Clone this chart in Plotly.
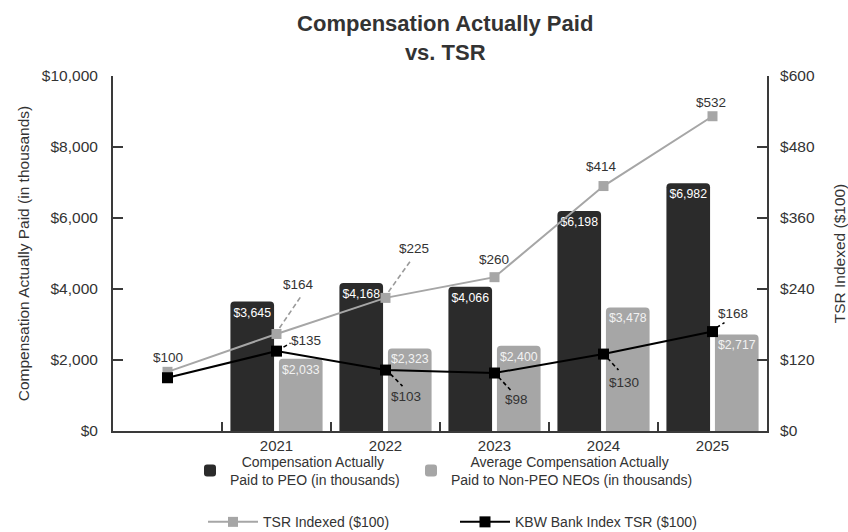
import plotly.graph_objects as go

# ---------------- data ----------------
periods = ["2020", "2021", "2022", "2023", "2024", "2025"]
tick_labels = ["", "2021", "2022", "2023", "2024", "2025"]
bar_periods = ["2021", "2022", "2023", "2024", "2025"]
peo_cap = [3645, 4168, 4066, 6198, 6982]
neo_cap = [2033, 2323, 2400, 3478, 2717]
tsr_indexed = [100, 164, 225, 260, 414, 532]
kbw_tsr = [90, 135, 103, 98, 130, 168]
kbw_labelled = [False, True, True, True, True, True]
left_ticks = [0, 2000, 4000, 6000, 8000, 10000]
right_ticks = [0, 120, 240, 360, 480, 600]

# ---------------- styling (label offsets in pixels) ----------------
FONT = "Liberation Sans, Arial, Helvetica, sans-serif"
TXT = "#333333"
DARK = "#2b2b2b"
GRAY = "#a6a6a6"
AX = "#3a3a3a"
NB = "\u00a0"

tsr_label_off = [(0, 14), (22, 49), (28, 49), (-1, 18), (-2, 20), (-2, 14)]
tsr_leader = [None, (3, 6, 24, 37), (3, 6, 25, 37), None, None, None]
kbw_label_off = [None, (29, 11), (20, -26), (22, -26), (20, -28), (20, 18)]
kbw_leader = [None, (7, 4, 14, 8), (5, -4, 17, -16), (4, -4, 16, -17), (4, -4, 15, -16), (4, 4, 12, 9)]

xpos = list(range(len(periods)))
bar_x = [periods.index(p) for p in bar_periods]

fig = go.Figure()

fig.add_trace(go.Bar(
    x=bar_x, y=peo_cap, name=NB * 3 + "Compensation Actually<br>Paid to PEO (in thousands)",
    marker=dict(color=DARK, cornerradius=4, line=dict(width=0)),
    texttemplate="$%{y:,.0f}", textposition="inside", insidetextanchor="end",
    constraintext="none", textangle=0,
    insidetextfont=dict(family=FONT, size=13.5, color="#ffffff"),
    legend="legend", yaxis="y",
))
fig.add_trace(go.Bar(
    x=bar_x, y=neo_cap, name=NB * 5 + "Average Compensation Actually<br>Paid to Non-PEO NEOs (in thousands)",
    marker=dict(color=GRAY, cornerradius=4, line=dict(width=0)),
    texttemplate="$%{y:,.0f}", textposition="inside", insidetextanchor="end",
    constraintext="none", textangle=0,
    insidetextfont=dict(family=FONT, size=13.5, color="#f2f2f2"),
    legend="legend3", yaxis="y",
))
fig.add_trace(go.Scatter(
    x=xpos, y=tsr_indexed, name="TSR Indexed ($100)", mode="lines+markers",
    line=dict(color=GRAY, width=2), marker=dict(symbol="square", size=10, color=GRAY),
    yaxis="y2", legend="legend2",
))
fig.add_trace(go.Scatter(
    x=xpos, y=kbw_tsr, name="KBW Bank Index TSR ($100)", mode="lines+markers",
    line=dict(color="#000000", width=2), marker=dict(symbol="square", size=11, color="#000000"),
    yaxis="y2", legend="legend4",
))

annotations = []
shapes = []
for i, v in enumerate(tsr_indexed):
    dx, dy = tsr_label_off[i]
    annotations.append(dict(x=xpos[i], y=v, xref="x", yref="y2", text=f"${v:,}",
                            showarrow=False, xshift=dx, yshift=dy,
                            font=dict(family=FONT, size=13.5, color=TXT)))
    if tsr_leader[i]:
        x0, y0, x1, y1 = tsr_leader[i]
        shapes.append(dict(type="line", xref="x", yref="y2", xsizemode="pixel", ysizemode="pixel",
                           xanchor=xpos[i], yanchor=v, x0=x0, y0=y0, x1=x1, y1=y1,
                           line=dict(color="#9a9a9a", width=1.6, dash="5px,3px")))
for i, v in enumerate(kbw_tsr):
    if not kbw_labelled[i]:
        continue
    dx, dy = kbw_label_off[i]
    annotations.append(dict(x=xpos[i], y=v, xref="x", yref="y2", text=f"${v:,}",
                            showarrow=False, xshift=dx, yshift=dy,
                            font=dict(family=FONT, size=13.5, color=TXT)))
    if kbw_leader[i]:
        x0, y0, x1, y1 = kbw_leader[i]
        shapes.append(dict(type="line", xref="x", yref="y2", xsizemode="pixel", ysizemode="pixel",
                           xanchor=xpos[i], yanchor=v, x0=x0, y0=y0, x1=x1, y1=y1,
                           line=dict(color="#000000", width=1.6, dash="4px,3px")))

leg_common = dict(orientation="h", xanchor="left", yanchor="top",
                  font=dict(size=14, color=TXT), bgcolor="rgba(0,0,0,0)", valign="middle")

fig.update_layout(
    width=848, height=532,
    margin=dict(l=113, r=81, t=76, b=101, autoexpand=False),
    paper_bgcolor="white", plot_bgcolor="white",
    font=dict(family=FONT, size=15, color=TXT),
    title=dict(text="<b>Compensation Actually Paid<br>vs. TSR</b>",
               x=0.508, xref="paper", xanchor="center",
               y=1 - 31 / 532, yref="container", yanchor="top",
               font=dict(family=FONT, size=22, color=TXT)),
    barmode="group", bargap=0.11, bargroupgap=0.1,
    xaxis=dict(range=[-0.5, len(periods) - 0.5], tickmode="array",
               tickvals=xpos, ticktext=tick_labels, ticks="",
               showline=True, linecolor=AX, linewidth=2, showgrid=False, zeroline=False,
               tickfont=dict(size=15, color=TXT),
               minor=dict(tickmode="array", tickvals=[i + 0.5 for i in xpos[:-1]],
                          ticks="inside", ticklen=9, tickcolor=AX, tickwidth=1.5, showgrid=False)),
    yaxis=dict(range=[0, 10000], tickmode="array", tickvals=left_ticks,
               ticktext=[f"${v:,}" for v in left_ticks],
               ticks="inside", ticklen=10, tickcolor=AX, tickwidth=1.5,
               showline=True, linecolor=AX, linewidth=2, showgrid=False, zeroline=False,
               ticklabelstandoff=10, tickfont=dict(size=15.5, color=TXT),
               title=dict(text="Compensation Actually Paid (in thousands)", standoff=8,
                          font=dict(size=15.5, color=TXT))),
    yaxis2=dict(range=[0, 600], tickmode="array", tickvals=right_ticks,
                ticktext=[f"${v:,}" for v in right_ticks],
                ticks="inside", ticklen=10, tickcolor=AX, tickwidth=1.5,
                overlaying="y", side="right",
                showline=True, linecolor=AX, linewidth=2, showgrid=False, zeroline=False,
                ticklabelstandoff=8, tickfont=dict(size=15.5, color=TXT),
                title=dict(text="TSR Indexed ($100)", standoff=20,
                           font=dict(size=15.5, color=TXT))),
    legend=dict(x=(190 - 113) / 654, y=-0.042, **leg_common),
    legend3=dict(x=(411 - 113) / 654, y=-0.042, **leg_common),
    legend2=dict(x=(203 - 113) / 654, y=-0.212, itemwidth=50, **leg_common),
    legend4=dict(x=(455 - 113) / 654, y=-0.212, itemwidth=50, **leg_common),
    annotations=annotations, shapes=shapes,
    showlegend=True,
)

fig.write_html("out.html")
